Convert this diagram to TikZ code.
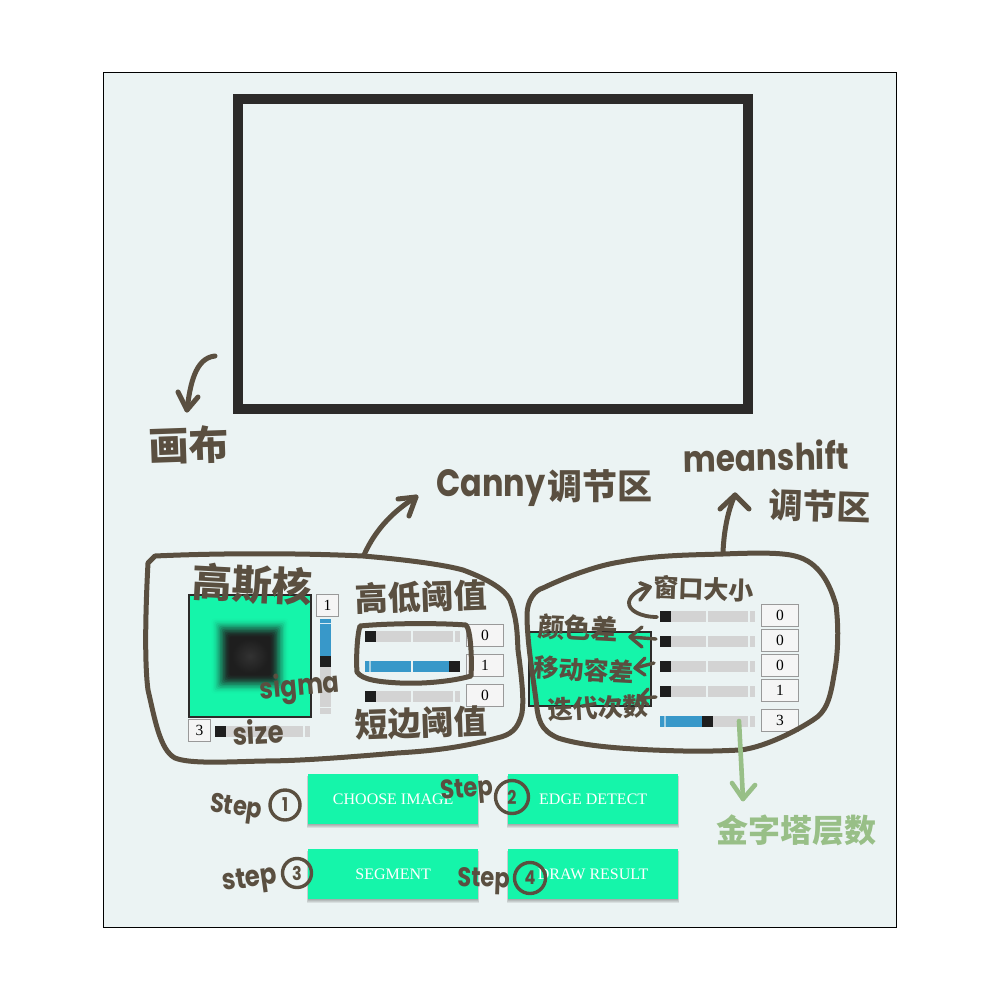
\documentclass[tikz,border=0pt]{standalone}
\usepackage{fontspec}
\setmainfont{Liberation Serif}
\newfontfamily\cjk{Noto Sans CJK SC}
\newfontfamily\hand[FakeStretch=0.84]{Poppins}
\definecolor{bgc}{HTML}{EBF3F3}
\definecolor{ink}{HTML}{5A4F40}
\definecolor{mint}{HTML}{15F5AA}
\definecolor{dark}{HTML}{1E1E1E}
\definecolor{canvasc}{HTML}{2C2A29}
\definecolor{track}{HTML}{D3D3D3}
\definecolor{blueb}{HTML}{3898C9}
\definecolor{boxb}{HTML}{999999}
\definecolor{boxf}{HTML}{F5F5F5}
\definecolor{leaf}{HTML}{98BF87}
\tikzset{
  x=1pt,y=-1pt,
  stroke/.style={draw=ink,line width=5pt,line cap=round,line join=round},
  leafstroke/.style={draw=leaf,line width=4.6pt,line cap=round,line join=round},
  panel/.style={fill=mint,draw=canvasc,line width=2pt},
  valbox/.style={fill=boxf,draw=boxb,line width=0.9pt},
  valtext/.style={font=\fontsize{15.5}{15.5}\selectfont,text=black,inner sep=0pt},
  btn/.style={fill=mint,draw=none,minimum width=170pt,minimum height=50pt,inner sep=0pt,text=white,font=\fontsize{16}{16}\selectfont,anchor=north west},
  zh/.style={font=\cjk\bfseries\fontsize{#1}{#1}\selectfont,text=ink,inner sep=0pt},
  zh/.default=30,
  la/.style={font=\hand\bfseries\fontsize{#1}{#1}\selectfont,text=ink,inner sep=0pt},
  la/.default=28,
  ring/.style={circle,draw=ink,line width=3.4pt,inner sep=0pt,minimum size=#1,text=ink,font=\hand\bfseries\fontsize{19}{19}\selectfont},
  ring/.default=30pt,
}
\newcommand{\hslider}[3]{% x,y,thumb offset
  \fill[track] (#1,#2) rectangle ++(95,11);
  \ifnum#3>0 \fill[blueb] (#1,#2) rectangle ++(#3,11); \fi
  \fill[bgc] (#1+46,#2) rectangle ++(2,11);
  \fill[bgc] (#1+88,#2) rectangle ++(2,11);
  \ifnum#3>0 \fill[bgc!60!blueb] (#1+4,#2) rectangle ++(2,11); \fi
  \fill[dark] (#1+#3,#2) rectangle ++(11,11);
}
\begin{document}
\begin{tikzpicture}
\useasboundingbox (0,0) rectangle (1000,1000);
\fill[white] (0,0) rectangle (1000,1000);
\draw[fill=bgc,draw=black,line width=0.9pt] (103.5,72.5) rectangle (896.5,927.5);
% canvas
\node[draw=canvasc,line width=10pt,minimum width=510pt,minimum height=310pt,inner sep=0pt] (canvasbox) at (493,254) {};
% gaussian panel
\draw[panel] (189,595) rectangle (311,717);
\foreach \i in {0,...,14}{
  \pgfmathsetmacro{\p}{50*(1-cos(\i*12.8))}
  \pgfmathsetmacro{\d}{20-\i*1.45}
  \fill[dark!\p!mint,rounded corners=3pt] (230-\d,637-\d) rectangle (270+\d,675+\d);
}
\fill[dark] (230,637) rectangle (270,675);
\shade[inner color=white!9!dark,outer color=dark] (232,639) rectangle (268,673);
% vertical slider
\fill[track] (320,619) rectangle (331,714);
\fill[blueb] (320,619) rectangle (331,656);
\fill[white!80!blueb] (320,623) rectangle (331,624);
\fill[bgc] (320,707) rectangle (331,708);
\fill[dark] (320,656) rectangle (331,667);
\node[valbox,minimum width=22pt,minimum height=22pt,inner sep=0pt,anchor=north west,valtext] (sigmaval) at (316,594) {1};
% size slider
\hslider{215}{726}{0}
\node[valbox,minimum width=22pt,minimum height=22pt,inner sep=0pt,anchor=north west,valtext] (sizeval) at (188,719) {3};
% canny sliders
\hslider{365}{631}{0}
\hslider{365}{661}{84}
\hslider{365}{691}{0}
\foreach \n/\yy/\v in {a/624/0,b/654/1,c/684/0}{
  \node[valbox,minimum width=37pt,minimum height=22pt,inner sep=0pt,anchor=north west,valtext] (canny\n) at (466,\yy) {\v};
}
% meanshift panel
\draw[panel] (529,632) rectangle (651,706);
\hslider{660}{611}{0}
\hslider{660}{636}{0}
\hslider{660}{661}{0}
\hslider{660}{686}{0}
\hslider{660}{716}{42}
\foreach \n/\yy/\v in {a/604/0,b/629/0,c/654/0,d/679/1,e/709/3}{
  \node[valbox,minimum width=37pt,minimum height=22pt,inner sep=0pt,anchor=north west,valtext] (ms\n) at (761,\yy) {\v};
}
% buttons
\foreach \x/\y in {308/774,508/774,308/849,508/849}{
  \foreach \e in {0,1,2,3}{
    \fill[black,opacity=0.08] (\x-\e*0.4,\y+2) rectangle (\x+170+\e*0.4,\y+51+\e);
  }
}
\node[btn] (choose) at (308,774) {CHOOSE IMAGE};
\node[btn] (edge) at (508,774) {EDGE DETECT};
\node[btn] (segment) at (308,849) {SEGMENT};
\node[btn] (result) at (508,849) {DRAW RESULT};
% hand-drawn outlines
\draw[stroke] (155,556) .. controls (220,553) and (300,553) .. (363,556)
  .. controls (410,560) and (445,565) .. (463,570)
  .. controls (490,580) and (505,590) .. (510,600)
  .. controls (517,620) and (517,630) .. (518,650)
  .. controls (522,680) and (524,700) .. (522,713)
  .. controls (518,730) and (510,735) .. (497,738)
  .. controls (460,748) and (430,751) .. (397,753)
  .. controls (350,757) and (300,761) .. (263,761)
  .. controls (225,762) and (190,764) .. (175,758)
  .. controls (160,750) and (155,720) .. (148,690)
  .. controls (144,660) and (146,600) .. (148,563) -- cycle;
\draw[stroke] (360,626) .. controls (390,623) and (440,623) .. (466,625)
  .. controls (471,630) and (472,660) .. (471,676)
  .. controls (450,682) and (420,684) .. (400,683)
  .. controls (380,682) and (362,680) .. (357,672)
  .. controls (356,660) and (357,635) .. (360,626) -- cycle;
\draw[stroke] (543,588) .. controls (570,575) and (600,565) .. (620,562)
  .. controls (655,555) and (690,555) .. (723,554)
  .. controls (750,553) and (780,552) .. (795,556)
  .. controls (820,562) and (830,585) .. (836,605)
  .. controls (839,630) and (838,655) .. (834,675)
  .. controls (830,700) and (826,712) .. (813,720)
  .. controls (790,735) and (760,748) .. (740,750)
  .. controls (700,752) and (680,751) .. (653,750)
  .. controls (610,748) and (580,745) .. (558,738)
  .. controls (540,730) and (538,720) .. (536,700)
  .. controls (532,670) and (527,640) .. (527,615)
  .. controls (527,600) and (535,590) .. (543,588) -- cycle;
% connectors
\coordinate (cannytop) at (364,555);
\coordinate (cannytip) at (416,497);
\coordinate (cannyh1) at (398,499);
\coordinate (cannyh2) at (409,516);
\draw[stroke] (cannytop) .. controls (376,528) and (395,510) .. (cannytip);
\draw[stroke] (cannyh1) -- (cannytip) -- (cannyh2);
\coordinate (mstop) at (723,552);
\coordinate (mstip) at (735,495);
\draw[stroke] (mstop) .. controls (724,530) and (728,510) .. (mstip);
\draw[stroke] (720,509) -- (mstip) -- (749,509);
\coordinate (cvsfrom) at (215,356);
\coordinate (cvstip) at (187,410);
\draw[stroke] (cvsfrom) .. controls (195,358) and (190,385) .. (cvstip);
\draw[stroke] (178,392) -- (cvstip) -- (198,397);
\coordinate (winfrom) at (657,617);
\coordinate (wintip) at (650,587);
\draw[stroke,line width=3.8pt] (winfrom) .. controls (640,617) and (628,610) .. (629,602) .. controls (630,595) and (640,588) .. (wintip);
\draw[stroke,line width=3.8pt] (640,583) -- (wintip) -- (640,600);
\coordinate (colfrom) at (656,639);
\coordinate (coltip) at (630,637);
\draw[stroke,line width=3.4pt] (colfrom) -- (coltip);
\draw[stroke,line width=3.4pt] (642,627) -- (coltip) -- (642,647);
\coordinate (movfrom) at (654,663);
\coordinate (movtip) at (635,668);
\draw[stroke,line width=3.4pt] (movfrom) -- (movtip);
\draw[stroke,line width=3.4pt] (645,658) -- (movtip) -- (645,675);
\coordinate (iterfrom) at (656,697);
\coordinate (itertip) at (640,698);
\draw[stroke,line width=3.4pt] (iterfrom) -- (itertip);
\draw[stroke,line width=3.4pt] (648,689) -- (itertip) -- (648,705);
% green arrow
\coordinate (pyrfrom) at (739,721);
\coordinate (pyrtip) at (743,799);
\draw[leafstroke] (pyrfrom) -- (pyrtip);
\draw[leafstroke] (732,783) -- (pyrtip) -- (755,785);
% hand labels
\node[zh=40,rotate=2] (lcanvas) at (189,445) {画布};
\node[la=38] (lcannyw) at (491,488) {Canny};
\node[zh=35,rotate=0] (lcannyz) at (600,486) {调节区};
\node[la=37,rotate=1] (lmeans) at (766,456) {meanshift};
\node[zh=34,rotate=-2] (lmz) at (820,506) {调节区};
\node[zh=40,rotate=-3] (lgauss) at (252,585) {高斯核};
\node[zh=33,rotate=2] (lhilo) at (421,597) {高低阈值};
\node[zh=33,rotate=2] (lshort) at (421,723) {短边阈值};
\node[la=29,rotate=5] (lsigma) at (300,688) {sigma};
\node[la=31,rotate=3] (lsize) at (258,732) {size};
\node[zh=25,rotate=-2] (lwin) at (704,589) {窗口大小};
\node[zh=27,rotate=-3] (lcol) at (578,628) {颜色差};
\node[zh=25,rotate=-3] (lmov) at (584,670) {移动容差};
\node[zh=25,rotate=3] (liter) at (598,708) {迭代次数};
\node[zh=32,text=leaf] (lpyr) at (796,830) {金字塔层数};
% steps
\node[la=27,rotate=-8] (s1) at (236,809) {Step};
\node[ring=30pt] (c1) at (285,805) {1};
\node[la=27,rotate=5] (s2) at (467,791) {Step};
\node[ring=33pt] (c2) at (512,797) {2};
\node[la=29,rotate=8] (s3) at (250,881) {step};
\node[ring=29pt] (c3) at (297,873) {3};
\node[la=27,rotate=-2] (s4) at (484,881) {Step};
\node[ring=31pt] (c4) at (530,878) {4};
\end{tikzpicture}
\end{document}
